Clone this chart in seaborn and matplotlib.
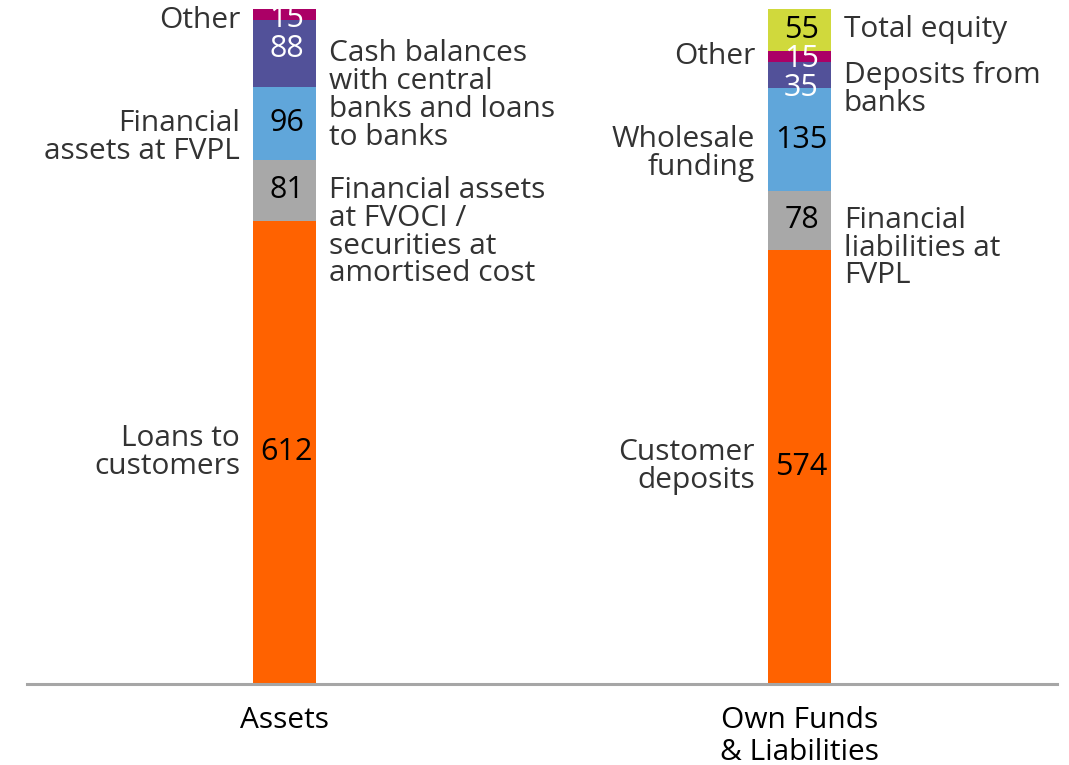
import pandas as pd
import seaborn as sns
import matplotlib.pyplot as plt

# Balance sheet composition (EUR bn)
bars = ["Assets", "Own Funds\n& Liabilities"]

asset_values = [612, 81, 96, 88, 15]
asset_left = ["Loans to\ncustomers", "", "Financial\nassets at FVPL", "", "Other"]
asset_right = ["", "Financial assets\nat FVOCI /\nsecurities at\namortised cost", "",
               "Cash balances\nwith central\nbanks and loans\nto banks", ""]

liab_values = [574, 78, 135, 35, 15, 55]
liab_left = ["Customer\ndeposits", "", "Wholesale\nfunding", "", "Other", ""]
liab_right = ["", "Financial\nliabilities at\nFVPL", "", "Deposits from\nbanks", "", "Total equity"]

seg_colors = ["#FF6200", "#A8A8A8", "#60A6DA", "#525199", "#AB0066", "#D0D93C"]
num_colors = ["black", "black", "black", "white", "white", "black"]

sns.set_style("white")
plt.rcParams['font.family'] = ['Open Sans', 'DejaVu Sans']

rows = []
for bar, vals, lefts, rights in [(bars[0], asset_values, asset_left, asset_right),
                                 (bars[1], liab_values, liab_left, liab_right)]:
    top = 0
    for lvl, v in enumerate(vals):
        top += v
        rows.append(dict(bar=bar, level=lvl, value=v, top=top, mid=top - v / 2,
                         left=lefts[lvl], right=rights[lvl]))
df = pd.DataFrame(rows)

fig = plt.figure(figsize=(10.69, 7.65), dpi=100)
ax = fig.add_axes([0.0253, 0.1059, 0.9635, 0.8941])

bw = 0.122
# cumulative bars, tallest first so the lower segments paint over
for lvl in sorted(df["level"].unique(), reverse=True):
    sub = df[df["level"] == lvl]
    sns.barplot(data=sub, x="bar", y="top", order=bars, color=seg_colors[lvl],
                saturation=1, width=bw, ax=ax, errorbar=None, linewidth=0)

ax.set_xlim(-0.5, 1.5)
ax.set_ylim(0, df["top"].max() * 1.0133)

txt_color = "#333333"
fs = 21.5
line_px = 14.5  # half a text line, to put the first line on the segment middle
# small nudges (pixels) where the reference moved text off the segment middle
num_nudge = {(0, 3): 5, (0, 4): -4, (1, 3): -13, (1, 4): -3}
lab_nudge = {(0, 4): -6}
big = {0}

for _, r in df.iterrows():
    i = bars.index(r["bar"])
    lvl = r["level"]
    ax.annotate(str(r["value"]), xy=(i, r["mid"]), xytext=(2, num_nudge.get((i, lvl), 0)),
                textcoords="offset pixels", ha="center", va="center",
                fontsize=22, color=num_colors[lvl])
    for side, sign, ha in [("left", -1, "right"), ("right", 1, "left")]:
        label = r[side]
        if not label:
            continue
        dy = lab_nudge.get((i, lvl), 0)
        if lvl in big:
            va = "center"
        else:
            va = "top"
            dy += line_px
        ax.annotate(label, xy=(i + sign * bw / 2, r["mid"]), xytext=(sign * 13, dy),
                    textcoords="offset pixels", ha=ha, va=va, fontsize=fs,
                    color=txt_color, linespacing=0.95)

sns.despine(ax=ax, left=True)
ax.spines["bottom"].set_color("#A6A6A6")
ax.spines["bottom"].set_linewidth(2.2)
ax.set_yticks([])
ax.set_xlabel("")
ax.set_ylabel("")
ax.tick_params(axis="x", length=0, pad=16, labelsize=fs, labelcolor="black")
for t in ax.get_xticklabels():
    t.set_linespacing(1.12)

fig.savefig("out.png", dpi=100)
